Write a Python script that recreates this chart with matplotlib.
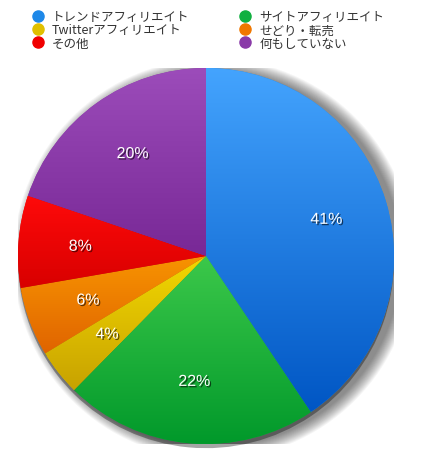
import numpy as np
import matplotlib.pyplot as plt
from matplotlib.patches import Circle
from matplotlib.lines import Line2D
import matplotlib.patheffects as pe
from matplotlib.colors import to_rgb

plt.rcParams['font.family'] = ['Noto Sans CJK JP', 'DejaVu Sans']

labels = ["トレンドアフィリエイト", "サイトアフィリエイト", "Twitterアフィリエイト",
          "せどり・転売", "その他", "何もしていない"]
values = [41, 22, 4, 6, 8, 20]
colors = ["#1e88e8", "#10b040", "#e0c000", "#f07800", "#f00000", "#8a3aa8"]
tops = ["#44a4fe", "#3cc84a", "#f2d800", "#f89400", "#ff0a0a", "#9c4cba"]
bottoms = ["#0056c4", "#00982a", "#c8a200", "#e06400", "#d80000", "#782896"]

fig = plt.figure(figsize=(4.25, 4.6), dpi=100)
ax = fig.add_axes([18 / 425, 15 / 460, 376 / 425, 376 / 460])

# soft drop shadow behind the pie
for i in range(14):
    r = 1.0 + 0.005 * i
    ax.add_patch(Circle((0.04, -0.015), r, color="black", alpha=0.04, lw=0, zorder=0))

wedges, texts = ax.pie(values, colors=colors, startangle=90, counterclock=False,
                       labels=[f"{v}%" for v in values], labeldistance=0.67,
                       wedgeprops=dict(linewidth=0),
                       textprops=dict(color="white", fontsize=11.5,
                                      family=["Liberation Sans", "DejaVu Sans"]))

# vertical gradient inside each wedge
for w, c1, c2 in zip(wedges, tops, bottoms):
    verts = w.get_patch_transform().transform(w.get_path().vertices)
    y0, y1 = verts[:, 1].min(), verts[:, 1].max()
    t = np.linspace(0, 1, 200)[:, None, None]
    img = np.array(to_rgb(c1)) * (1 - t) + np.array(to_rgb(c2)) * t
    img = np.repeat(img, 2, axis=1)
    im = ax.imshow(img, extent=(-1, 1, y0, y1), zorder=1.5, interpolation="bilinear",
                   aspect="auto")
    im.set_clip_path(w)
    w.set_path_effects([pe.SimplePatchShadow(offset=(0, -3), shadow_rgbFace="black", alpha=0.35),
                        pe.Normal()])

for t in texts:
    t.set_zorder(3)
    t.set_ha("center")
    t.set_path_effects([pe.withSimplePatchShadow(offset=(1, -1), shadow_rgbFace="black", alpha=0.6)])

ax.set_xlim(-1.0, 1.0)
ax.set_ylim(-1.0, 1.0)
ax.set_aspect("equal")
ax.axis("off")

handles = [Line2D([], [], marker="o", ls="", color=c, markersize=8) for c in colors]
order = [0, 2, 4, 1, 3, 5]
fig.legend([handles[i] for i in order], [labels[i] for i in order], ncol=2,
           loc="upper left", bbox_to_anchor=(25 / 425, 1 - 6 / 460), frameon=False,
           fontsize=9, handletextpad=0.55, labelspacing=0.03, columnspacing=3.85,
           handlelength=1.2, borderaxespad=0, labelcolor="#333333")

fig.savefig("out.png", dpi=100)
